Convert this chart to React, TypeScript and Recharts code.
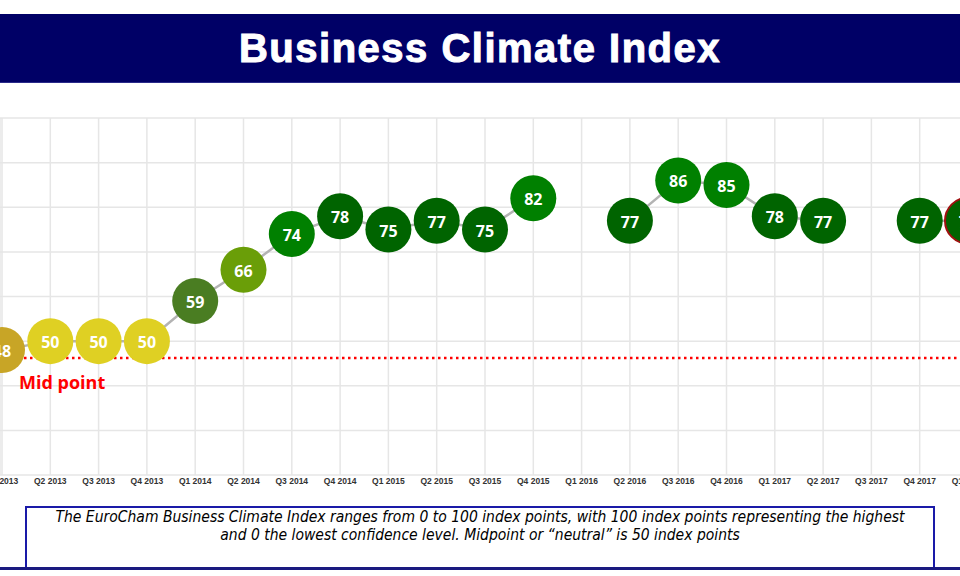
import React from "react";
import { LineChart, Line, XAxis, YAxis, CartesianGrid, ReferenceLine } from "recharts";

const quarters = [
  "Q1 2013", "Q2 2013", "Q3 2013", "Q4 2013",
  "Q1 2014", "Q2 2014", "Q3 2014", "Q4 2014",
  "Q1 2015", "Q2 2015", "Q3 2015", "Q4 2015",
  "Q1 2016", "Q2 2016", "Q3 2016", "Q4 2016",
  "Q1 2017", "Q2 2017", "Q3 2017", "Q4 2017",
  "Q1 2018",
];

const indexValues: (number | null)[] = [
  48, 50, 50, 50,
  59, 66, 74, 78,
  75, 77, 75, 82,
  null, 77, 86, 85,
  78, 77, null, 77,
  77,
];

const yTicks = [20, 30, 40, 50, 60, 70, 80, 90, 100];
const midLineValue = 46.2;

// bubble fill per quarter
const bubbleColors = [
  "#c8a526", "#dfd023", "#dfd023", "#dfd023",
  "#4a7d22", "#6a9e08", "#008000", "#006400",
  "#006400", "#006400", "#006400", "#008000",
  "#006400", "#006400", "#008000", "#008000",
  "#006400", "#006400", "#006400", "#006400",
  "#006400",
];

const data = quarters.map((q, i) => ({ quarter: q, index: indexValues[i] }));

const Bubble = (props: any) => {
  const { cx, cy, index, value } = props;
  if (value == null || cx == null || cy == null) return <g key={`b-${index}`} />;
  const last = index === quarters.length - 1;
  return (
    <g key={`b-${index}`}>
      <circle
        cx={cx}
        cy={cy}
        r={23}
        fill={bubbleColors[index]}
        stroke={last ? "#a01010" : "none"}
        strokeWidth={last ? 2 : 0}
      />
      <text
        x={cx}
        y={cy + 1}
        textAnchor="middle"
        dominantBaseline="central"
        fill="#ffffff"
        fontSize={16}
        fontWeight={700}
        fontFamily="'Open Sans', sans-serif"
      >
        {value}
      </text>
    </g>
  );
};

const MidLabel = (props: any) => {
  const { viewBox } = props;
  return (
    <text
      x={viewBox.x + 19}
      y={viewBox.y + 31}
      fill="#ff0000"
      fontSize={18}
      fontWeight={700}
      fontFamily="'Open Sans', sans-serif"
    >
      Mid point
    </text>
  );
};

export default function App() {
  return (
    <div
      style={{
        position: "absolute",
        left: 0,
        top: 0,
        width: 960,
        height: 576,
        overflow: "hidden",
        background: "#ffffff",
        fontFamily: "'Liberation Sans', Arial, sans-serif",
      }}
    >
      <div
        style={{
          position: "absolute",
          left: 0,
          top: 14,
          width: 960,
          height: 68,
          background: "#000066",
          borderBottom: "1px solid #2a2a8a",
          color: "#ffffff",
          fontSize: 40,
          fontWeight: 700,
          lineHeight: "68px",
          textAlign: "center",
          letterSpacing: 1.5,
          WebkitTextStroke: "1px #ffffff",
        }}
      >
        Business Climate Index
      </div>

      <div style={{ position: "absolute", left: 0, top: 100 }}>
        <LineChart
          width={980}
          height={400}
          data={data}
          margin={{ top: 18, right: 12, left: 0, bottom: 0 }}
        >
          <CartesianGrid stroke="#e6e6e6" strokeWidth={1.5} />
          <XAxis
            dataKey="quarter"
            interval={0}
            axisLine={false}
            tickLine={false}
            tickSize={0}
            tickMargin={3}
            height={25}
            padding={{ left: 2, right: 0 }}
            tick={{ fontSize: 8.5, fontWeight: 700, fill: "#333333" }}
          />
          <YAxis hide domain={[20, 100]} ticks={yTicks} />
          <Line
            type="linear"
            dataKey="index"
            stroke="#b3b3b3"
            strokeWidth={2.5}
            connectNulls={false}
            dot={Bubble}
            activeDot={false}
            isAnimationActive={false}
          />
          <ReferenceLine
            y={midLineValue}
            stroke="#ff0000"
            strokeWidth={2.5}
            strokeDasharray="2.5 3.5"
            label={<MidLabel />}
          />
        </LineChart>
      </div>

      <div
        style={{
          position: "absolute",
          left: 25,
          top: 506,
          width: 906,
          height: 61,
          borderLeft: "2px solid #1a1aa8",
          borderRight: "2px solid #1a1aa8",
          borderTop: "2px solid #1a1aa8",
          boxSizing: "content-box",
          textAlign: "center",
          fontStyle: "italic",
          fontSize: 15.5,
          lineHeight: "18px",
          paddingTop: 0,
          color: "#000000",
          fontFamily: "'Liberation Sans Narrow', 'DejaVu Sans Condensed', sans-serif",
        }}
      >
        The EuroCham Business Climate Index ranges from 0 to 100 index points, with 100 index points representing the highest
        <br />
        and 0 the lowest confidence level. Midpoint or “neutral” is 50 index points
      </div>
      <div
        style={{
          position: "absolute",
          left: 0,
          top: 567,
          width: 960,
          height: 3,
          background: "#1a1a80",
        }}
      />
    </div>
  );
}
